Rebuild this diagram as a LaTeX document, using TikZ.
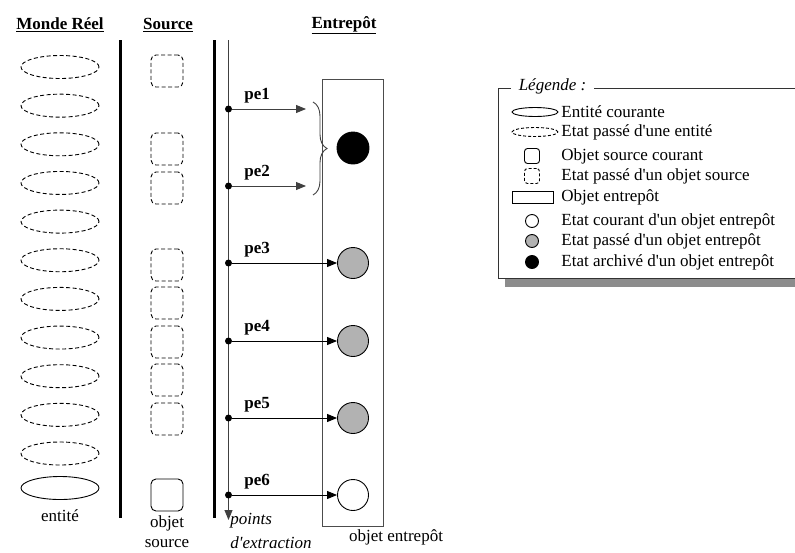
\documentclass[tikz,border=0pt]{standalone}
\usepackage{fontspec}
\setmainfont{Liberation Serif}
\usetikzlibrary{arrows.meta,shapes.geometric,decorations.pathreplacing}

\begin{document}
\begin{tikzpicture}[x=1pt,y=1pt, line width=0.9pt,
  every node/.style={font=\fontsize{17}{20}\selectfont, inner sep=1pt},
  heading/.style={font=\fontsize{17}{20}\selectfont\bfseries},
  entity/.style={draw, ellipse, minimum width=78pt, minimum height=23pt, inner sep=0pt},
  pastline/.style={dash pattern=on 4pt off 2.5pt},
  srcobj/.style={draw, rounded corners=5pt, minimum size=32pt, inner sep=0pt},
  whstate/.style={draw, circle, minimum size=31pt, inner sep=0pt},
  extpoint/.style={circle, fill, minimum size=7pt, inner sep=0pt},
  petext/.style={font=\fontsize{17}{20}\selectfont\bfseries, anchor=south west},
  flow/.style={-{Triangle[length=10pt,width=8pt]}},
  barrier/.style={line width=3pt}
]
  \useasboundingbox (0,0) rectangle (795,-552);

  % Column headings
  \node[heading] (hreal) at (60,-25) {\underline{Monde Réel}};
  \node[heading] (hsrc) at (168,-25) {\underline{Source}};
  \node[heading] (hwh) at (344,-25) {\underline{Entrepôt}};

  % Real world: past states and current entity
  \foreach \i in {0,...,10}
    \node[entity, pastline] (ent\i) at (60,{-67-38.65*\i}) {};
  \node[entity] (entnow) at (60,-488) {};
  \node (entlbl) at (60,-516) {entité};

  % Source objects
  \foreach \y [count=\i] in {71,149,188,265,303,342,380,419}
    \node[srcobj, pastline] (src\i) at (167,-\y) {};
  \node[srcobj] (srcnow) at (167,-495) {};
  \node (srclbl) at (167,-523) {objet};
  \node (srclbl2) at (167,-544) {source};

  % Separators
  \draw[barrier] (120.5,-40) -- (120.5,-518);
  \draw[barrier] (214.5,-40) -- (214.5,-518);

  % Extraction axis
  \coordinate (axtop) at (228.5,-40);
  \coordinate (axend) at (228.5,-520);
  \draw[flow, black!75] (axtop) -- (axend);
  \node[anchor=west, font=\fontsize{17}{20}\selectfont\itshape] (axlbl) at (229,-521) {points};
  \node[anchor=west, font=\fontsize{17}{20}\selectfont\itshape] (axlbl2) at (229,-543) {d\textquotesingle extraction};

  % Warehouse object
  \node[draw, black!70, minimum width=61pt, minimum height=447pt, inner sep=0pt] (whobj) at (352.5,-302.5) {};
  \node (whlbl) at (396,-537) {objet entrepôt};
  \node[whstate, fill=black, minimum size=32pt] (st0) at (353,-148) {};
  \foreach \y/\c [count=\i from 3] in {263/gray!60, 341/gray!60, 418/gray!60, 495/white}
    \node[whstate, fill=\c] (st\i) at (353,-\y) {};

  % Extraction points
  \foreach \y [count=\i] in {109,186,263,341,418,495} {
    \node[extpoint] (pe\i) at (228.5,-\y) {};
    \node[petext] (pelbl\i) at (243,{-\y+4}) {pe\i};
  }
  \coordinate (tip1) at (306,-109);
  \coordinate (tip2) at (306,-186);
  \draw[flow, black!75] (pe1) -- (tip1);
  \draw[flow, black!75] (pe2) -- (tip2);
  \foreach \i in {3,...,6}
    \draw[flow] (pe\i) -- (st\i);

  % Brace grouping pe1 and pe2
  \coordinate (brtop) at (313,-102);
  \coordinate (brbot) at (313,-195);
  \draw[decorate, decoration={brace, amplitude=14pt}, black!75] (brtop) -- (brbot);

  % Legend
  \fill[black!45] (505,-96) rectangle (805,-287);
  \draw[draw=black!80, fill=white] (498,-88) rectangle (805,-278);
  \node[fill=white, inner xsep=8pt, font=\fontsize{17}{20}\selectfont\itshape] (legtitle) at (552.5,-86) {Légende :};
  \node[draw, ellipse, minimum width=46pt, minimum height=9pt, inner sep=0pt] (keyent) at (535,-112) {};
  \node[draw, ellipse, minimum width=46pt, minimum height=9pt, inner sep=0pt, dash pattern=on 3pt off 2pt] (keypast) at (535,-132) {};
  \node[draw, rounded corners=3pt, minimum size=15pt, inner sep=0pt] (keysrc) at (532,-156) {};
  \node[draw, rounded corners=3pt, minimum size=15pt, inner sep=0pt, dash pattern=on 3pt off 2pt] (keysrcpast) at (532,-176) {};
  \node[draw, minimum width=41pt, minimum height=12pt, inner sep=0pt] (keywh) at (532.5,-197) {};
  \node[draw, circle, minimum size=13pt, inner sep=0pt, fill=white] (keynow) at (532,-221) {};
  \node[draw, circle, minimum size=13pt, inner sep=0pt, fill=gray!60] (keyold) at (532,-241) {};
  \node[draw, circle, minimum size=13pt, inner sep=0pt, fill=black] (keyarch) at (532,-262) {};
  \foreach \y/\t [count=\i] in {112/Entité courante, 132/Etat passé d\textquotesingle une entité,
      156/Objet source courant, 176/Etat passé d\textquotesingle un objet source, 197/Objet entrepôt,
      221/Etat courant d\textquotesingle un objet entrepôt, 241/Etat passé d\textquotesingle un objet entrepôt,
      262/Etat archivé d\textquotesingle un objet entrepôt}
    \node[anchor=west] (keytxt\i) at (560,-\y) {\t};
\end{tikzpicture}
\end{document}
